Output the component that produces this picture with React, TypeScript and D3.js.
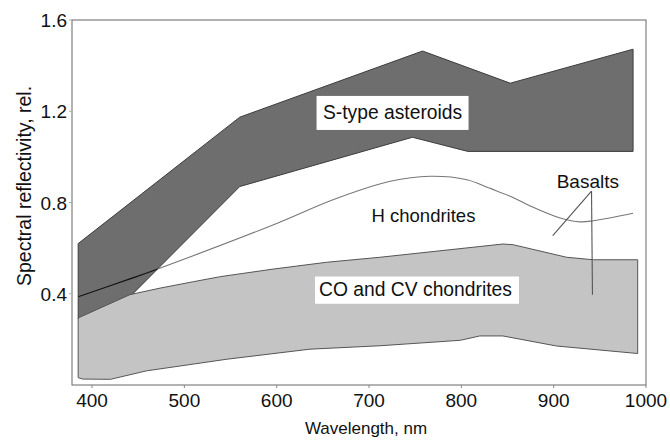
import React from 'react';
import * as d3 from 'd3';

// ---- data (wavelength, nm / spectral reflectivity) ----
const sTypeUpperWl = [385, 560, 758, 853, 986];
const sTypeUpperVal = [0.62, 1.174, 1.464, 1.323, 1.472];
const sTypeLowerWl = [385, 443, 560, 747, 807, 986];
const sTypeLowerVal = [0.29, 0.395, 0.87, 1.086, 1.024, 1.024];

const coUpperWl = [385, 441, 474, 510, 539, 596, 654, 712, 820, 845, 856, 914, 943, 991];
const coUpperVal = [0.294, 0.396, 0.425, 0.453, 0.475, 0.508, 0.538, 0.56, 0.607, 0.618, 0.615, 0.56, 0.549, 0.549];
const coLowerWl = [385, 390, 420, 459, 546, 636, 712, 799, 820, 845, 903, 991];
const coLowerVal = [0.032, 0.026, 0.025, 0.062, 0.113, 0.157, 0.172, 0.196, 0.215, 0.215, 0.171, 0.138];

const hChondWl = [385, 441, 466, 600, 661, 723, 766, 806, 831, 856, 874, 907, 929, 943, 986];
const hChondVal = [0.387, 0.465, 0.501, 0.708, 0.812, 0.893, 0.915, 0.9, 0.862, 0.822, 0.786, 0.732, 0.715, 0.72, 0.753];

const xTicks = [400, 500, 600, 700, 800, 900, 1000];
const yTicks = [0.4, 0.8, 1.2, 1.6];
const yTickLabels = ['0.4', '0.8', '1.2', '1.6'];

const xDomain = [378.3, 1000];
const yDomain = [0, 1.6];

// annotation anchors in data coordinates
const basaltsLabel = { wl: 937, val: 0.862, text: 'Basalts' };
const basaltsPointer = { wl: 941, val: 0.85 };
const basaltsTargets = [
  { wl: 899, val: 0.655 },
  { wl: 942, val: 0.396 },
];
const sTypeLabel = { wl: 725.5, val: 1.165, text: 'S-type asteroids' };
const hLabel = { wl: 759, val: 0.715, text: 'H chondrites' };
const coLabel = { wl: 752, val: 0.388, text: 'CO and CV chondrites' };

const FONT = '"Liberation Sans", Arial, Helvetica, sans-serif';

export default function App() {
  const W = 670;
  const H = 440;
  const left = 72, right = 646, top = 20, bottom = 385;

  const x = d3.scaleLinear().domain(xDomain).range([left, right]);
  const y = d3.scaleLinear().domain(yDomain).range([bottom, top]);

  const pts = (wl: number[], v: number[]) => wl.map((w, i) => [x(w), y(v[i])] as [number, number]);
  const poly = (upper: [number, number][], lower: [number, number][]) =>
    (d3.line()([...upper, ...lower.slice().reverse()]) || '') + 'Z';

  const sPath = poly(pts(sTypeUpperWl, sTypeUpperVal), pts(sTypeLowerWl, sTypeLowerVal));
  const coPath = poly(pts(coUpperWl, coUpperVal), pts(coLowerWl, coLowerVal));
  const hPath = d3.line().curve(d3.curveCatmullRom.alpha(0.5))(pts(hChondWl, hChondVal)) || '';

  const bp = [x(basaltsPointer.wl), y(basaltsPointer.val)];

  return (
    <svg width={W} height={H} style={{ position: 'absolute', left: 0, top: 0, background: '#fff' }}
      fontFamily={FONT}>
      <defs>
        <clipPath id="sclip">
          <path d={sPath} />
        </clipPath>
      </defs>
      <rect x={0} y={0} width={W} height={H} fill="#fff" />

      {/* S-type band */}
      <path d={sPath} fill="#6e6e6e" stroke="#3c3c3c" strokeWidth={1} />
      {/* CO/CV band */}
      <path d={coPath} fill="#c4c4c4" stroke="#555" strokeWidth={1} />
      {/* H chondrites line */}
      <path d={hPath} fill="none" stroke="#777" strokeWidth={1.1} />
      <path d={hPath} fill="none" stroke="#111" strokeWidth={1.2} clipPath="url(#sclip)" />

      {/* Basalts pointers */}
      {basaltsTargets.map((t, i) => (
        <line key={i} x1={bp[0]} y1={bp[1]} x2={x(t.wl)} y2={y(t.val)} stroke="#555" strokeWidth={1.1} />
      ))}

      {/* frame */}
      <rect x={left} y={top} width={right - left} height={bottom - top} fill="none" stroke="#666" strokeWidth={1} />

      {/* ticks */}
      {xTicks.map((t) => (
        <g key={t}>
          <line x1={x(t)} x2={x(t)} y1={bottom} y2={bottom + 3} stroke="#888" />
          <text x={x(t)} y={407} textAnchor="middle" fontSize={19} fill="#111">{t}</text>
        </g>
      ))}
      {yTicks.map((t, i) => (
        <g key={t}>
          <line x1={left - 3} x2={left} y1={y(t)} y2={y(t)} stroke="#aaa" />
          <text x={67} y={y(t) + 7} textAnchor="end" fontSize={19} fill="#111">{yTickLabels[i]}</text>
        </g>
      ))}

      {/* axis titles */}
      <text x={366} y={434} textAnchor="middle" fontSize={17} fill="#111">Wavelength, nm</text>
      <text transform={`translate(31,186) rotate(-90)`} textAnchor="middle" fontSize={19.5} fill="#111">
        Spectral reflectivity, rel.
      </text>

      {/* labels */}
      <rect x={x(sTypeLabel.wl) - 76} y={y(sTypeLabel.val) - 23.3} width={152} height={34} fill="#fff" />
      <text x={x(sTypeLabel.wl)} y={y(sTypeLabel.val)} textAnchor="middle" fontSize={19.3} fill="#111">{sTypeLabel.text}</text>

      <rect x={x(coLabel.wl) - 102} y={y(coLabel.val) - 20} width={204} height={27.3} fill="#fff" />
      <text x={x(coLabel.wl) - 1.5} y={y(coLabel.val)} textAnchor="middle" fontSize={19.3} fill="#111">{coLabel.text}</text>

      <text x={x(hLabel.wl)} y={y(hLabel.val)} textAnchor="middle" fontSize={18.5} fill="#111">{hLabel.text}</text>
      <text x={x(basaltsLabel.wl)} y={y(basaltsLabel.val)} textAnchor="middle" fontSize={19} fill="#111">{basaltsLabel.text}</text>
    </svg>
  );
}
